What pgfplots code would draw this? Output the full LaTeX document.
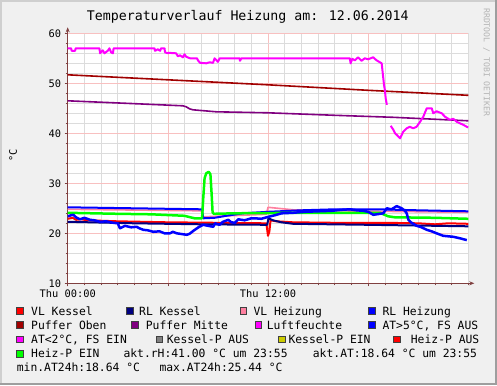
\documentclass[border=0pt]{standalone}
\usepackage{fontspec}
\setmainfont{DejaVu Sans Mono}
\usepackage{pgfplots}
\pgfplotsset{compat=1.18}
\usetikzlibrary{arrows.meta}
\definecolor{cVLK}{HTML}{FF0000}
\definecolor{cRLK}{HTML}{000080}
\definecolor{cVLH}{HTML}{FF80A0}
\definecolor{cRLH}{HTML}{0000FF}
\definecolor{cPO}{HTML}{A00000}
\definecolor{cPM}{HTML}{800080}
\definecolor{cLF}{HTML}{FF00FF}
\definecolor{cAT}{HTML}{0000FF}
\definecolor{cKPA}{HTML}{808080}
\definecolor{cKPE}{HTML}{CCCC00}
\definecolor{cHPA}{HTML}{FF0000}
\definecolor{cHPE}{HTML}{00FF00}
\definecolor{bg}{HTML}{F0F0F0}
\definecolor{shA}{HTML}{CFCFCF}
\definecolor{shB}{HTML}{9E9E9E}
\definecolor{axc}{HTML}{804040}
\definecolor{mgrid}{HTML}{F8C0C0}
\definecolor{ngrid}{HTML}{DCDCDC}
\definecolor{wm}{HTML}{B4B4B4}
\newcommand{\legfont}{\fontsize{11.4}{13}\selectfont}
\newcommand{\lbox}[3]{\filldraw[fill=#3,draw=black!75,line width=0.5bp] (#1,{385-#2+0.7}) rectangle ++(6.6,6.6);}
\newcommand{\ltext}[3]{\node[anchor=base west,inner sep=0pt,font=\legfont] at (#1,{385-#2}) {#3};}
\begin{document}
\begin{tikzpicture}[x=1bp,y=1bp]
\path[use as bounding box] (0,0) rectangle (497,385);
\fill[bg] (0,0) rectangle (497,385);
\fill[shA] (0,0) rectangle (2,385);
\fill[shA] (0,383) rectangle (497,385);
\fill[shB] (495,0) rectangle (497,385);
\fill[shB] (0,0) rectangle (497,2);
\begin{axis}[
  at={(67.7bp,101.7bp)}, anchor=south west,
  scale only axis, width=400.6bp, height=250bp,
  xmin=0, xmax=24, ymin=10, ymax=60,
  axis lines=left,
  axis line style={draw=axc, line width=0.8bp},
  x axis line style={-{Stealth[length=5bp,width=4bp]}, shorten >=-6bp},
  y axis line style={-{Stealth[length=5bp,width=4bp]}, shorten >=-6bp, shorten <=-3bp},
  axis background/.style={fill=white},
  xtick={0,6,12,18}, xticklabels={Thu 00:00,,Thu 12:00,},
  minor xtick={1,2,3,4,5,7,8,9,10,11,13,14,15,16,17,19,20,21,22,23,24},
  ytick={10,20,30,40,50,60},
  minor ytick={12,14,...,58},
  grid=both,
  major grid style={draw=mgrid, line width=0.6bp},
  minor grid style={draw=ngrid, line width=0.6bp},
  tick align=outside, major tick length=3bp, minor tick length=2bp,
  tick style={draw=axc, line width=0.6bp},
  ticklabel style={font=\fontsize{10.4}{12}\selectfont},
  /pgf/number format/assume math mode=true,
  unbounded coords=jump,
  every axis plot/.append style={line join=round, mark=none},
]
% VL Kessel
\addplot[cVLK, line width=2bp] coordinates {(0,22.9)(0.3,23.1)(0.5,22.7)(0.8,22.8)(1.2,22.6)(3,22.4)(6,22.2)(9,22.1)(11.9,22.0)(12.0,19.5)(12.08,20.3)(12.15,22.6)(12.5,22.4)(13.5,22.2)(16,22.1)(19,22.1)(21,22.0)(22,21.8)(22.8,22.0)(24,21.9)};
% RL Kessel
\addplot[cRLK, line width=2bp] coordinates {(0,22.3)(4,22.0)(8,21.8)(11.95,21.7)(12.03,23.0)(12.3,22.6)(12.8,22.2)(13.5,21.9)(18,21.7)(24,21.4)};
% VL Heizung
\addplot[cVLH, line width=1.6bp] coordinates {(0,24.8)(8.0,24.5)(8.1,23.3)(11.9,23.8)(12.0,25.2)(13.5,24.7)(16,24.5)(24,24.2)};
% RL Heizung
\addplot[cRLH, line width=2bp] coordinates {(0,25.2)(4,25.0)(8.05,24.8)(8.12,23.0)(8.8,23.1)(9.5,23.5)(10.5,24.0)(12,24.3)(14,24.6)(16,24.8)(18.5,24.8)(21,24.6)(24,24.4)};
% Puffer Oben
\addplot[cPO, line width=1.6bp] coordinates {(0,51.7)(6,50.7)(12,49.7)(18,48.6)(24,47.6)};
% Puffer Mitte
\addplot[cPM, line width=1.6bp] coordinates {(0,46.5)(3.5,46.0)(6.9,45.5)(7.1,45.3)(7.3,44.9)(7.5,44.7)(8.9,44.3)(12,44.1)(16,43.6)(19.5,43.2)(24,42.5)};
% Luftfeuchte
\addplot[cLF, line width=2bp] coordinates {(0,57.0)(0.2,57.0)(0.24,56.5)(0.44,56.5)(0.48,57.0)(1.9,57.0)(1.94,56.0)(2.1,56.6)(2.2,56.0)(2.4,56.5)(2.5,57.0)(2.6,56.2)(2.71,56.0)(2.75,57.0)(5.2,57.0)(5.23,56.5)(5.4,56.8)(5.53,56.5)(5.6,57.0)(5.8,57.0)(5.83,56.2)(6.0,56.0)(6.03,56.1)(6.5,56.0)(6.6,55.4)(6.73,55.6)(6.9,55.2)(7.0,55.8)(7.1,55.3)(7.33,55.0)(7.75,55.0)(7.8,54.6)(7.93,54.1)(8.3,54.0)(8.5,54.2)(8.71,54.1)(8.8,55.0)(9.0,54.3)(9.1,55.0)(9.31,55.0)(10.3,55.0)(10.32,54.5)(10.4,55.0)(16.9,55.0)(16.95,54.0)(17.05,54.9)(17.2,54.6)(17.4,55.2)(17.6,54.5)(17.8,55.0)(18.0,54.8)(18.3,55.2)(18.5,54.6)(18.81,54.0)(18.95,49.7)(19.0,48.7)(19.05,47.0)(19.12,45.7)(19.2,nan)(19.35,41.5)(19.51,40.7)(19.61,40.0)(19.71,39.7)(19.91,39.0)(20.1,40.3)(20.31,41.0)(20.5,41.3)(20.7,41.0)(20.9,41.3)(21.11,42.3)(21.3,43.3)(21.51,45.0)(21.81,45.0)(21.9,44.0)(22.1,44.4)(22.41,44.0)(22.61,43.3)(22.9,42.7)(23.1,42.9)(23.31,42.3)(23.5,42.0)(23.7,41.7)(23.91,41.3)(24,41.2)};
% Heiz-P EIN
\addplot[cHPE, line width=2.5bp] coordinates {(0,24.1)(3,23.9)(5,23.8)(7.0,23.5)(7.6,23.0)(8.05,23.0)(8.12,27.0)(8.2,31.0)(8.3,32.0)(8.45,32.3)(8.55,31.8)(8.62,28)(8.68,24.2)(8.75,23.9)(10,24.0)(14,24.1)(18.7,24.1)(19.2,23.4)(19.6,23.2)(22,23.1)(24,22.9)};
% AT
\addplot[cAT, line width=2.5bp] coordinates {(0,23.4)(0.2,23.6)(0.34,23.7)(0.5,23.2)(0.74,22.8)(1.0,23.1)(1.34,22.7)(1.6,22.6)(1.94,22.3)(2.3,22.4)(2.73,22.1)(3.0,22.0)(3.13,21.0)(3.43,21.5)(3.8,21.2)(4.13,21.3)(4.3,21.0)(4.53,20.7)(4.8,20.6)(5.13,20.3)(5.5,20.4)(5.8,20.0)(6.13,20.0)(6.3,20.3)(6.53,20.0)(6.93,19.8)(7.13,19.7)(7.3,19.9)(7.53,20.5)(7.83,21.2)(8.12,21.7)(8.4,21.5)(8.72,21.3)(8.83,22.0)(9.1,21.7)(9.3,22.3)(9.62,22.7)(9.8,22.2)(10.02,22.1)(10.22,22.8)(10.6,22.6)(11.0,23.0)(11.22,23.0)(11.6,22.9)(12.02,23.3)(12.4,23.6)(12.82,24.0)(13.5,24.1)(14.22,24.3)(15.0,24.4)(15.82,24.5)(16.4,24.7)(16.91,24.8)(17.3,24.6)(17.71,24.5)(18.0,24.3)(18.31,23.7)(18.51,23.8)(18.91,24.0)(19.11,25.0)(19.4,24.8)(19.71,25.44)(20.01,25.0)(20.2,24.5)(20.31,24.0)(20.41,22.7)(20.6,22.1)(20.91,21.5)(21.2,21.2)(21.51,20.7)(21.8,20.4)(22.1,20.0)(22.5,19.5)(22.8,19.4)(23.1,19.3)(23.5,19.0)(23.91,18.64)};
\end{axis}
% title
\node[anchor=base, inner sep=0pt, font=\fontsize{13.3}{15}\selectfont] at (247.8,{385-20.7}) {Temperaturverlauf Heizung am: 12.06.2014};
% y label
\node[rotate=90, inner sep=0pt, font=\fontsize{10.4}{12}\selectfont] at (13,{385-155}) {°C};
% watermark
\node[rotate=-90, anchor=west, inner sep=0pt, text=wm, font=\fontsize{8.2}{9}\selectfont] at (486.5,{385-8}) {RRDTOOL / TOBI OETIKER};
% legend
\lbox{16.7}{315}{cVLK}\ltext{31}{315}{VL Kessel}
\lbox{126.7}{315}{cRLK}\ltext{139}{315}{RL Kessel}
\lbox{240}{315}{cVLH}\ltext{253.3}{315}{VL Heizung}
\lbox{368.3}{315}{cRLH}\ltext{382.3}{315}{RL Heizung}
\lbox{16.7}{329}{cPO}\ltext{31}{329}{Puffer Oben}
\lbox{131.7}{329}{cPM}\ltext{145.7}{329}{Puffer Mitte}
\lbox{255}{329}{cLF}\ltext{266.7}{329}{Luftfeuchte}
\lbox{368.3}{329}{cAT}\ltext{382.3}{329}{AT>5°C, FS AUS}
\lbox{16.7}{343.3}{cLF}\ltext{31}{343.3}{AT<2°C, FS EIN}
\lbox{156}{343.3}{cKPA}\ltext{166.7}{343.3}{Kessel-P AUS}
\lbox{278.3}{343.3}{cKPE}\ltext{288.3}{343.3}{Kessel-P EIN}
\lbox{393.3}{343.3}{cHPA}\ltext{410.7}{343.3}{Heiz-P AUS}
\lbox{16.7}{357.5}{cHPE}\ltext{31}{357.5}{Heiz-P EIN}
\ltext{123.3}{357.5}{akt.rH:41.00 °C um 23:55}
\ltext{312.7}{357.5}{akt.AT:18.64 °C um 23:55}
\ltext{16.7}{371.7}{min.AT24h:18.64 °C}
\ltext{159.3}{371.7}{max.AT24h:25.44 °C}
\end{tikzpicture}
\end{document}
